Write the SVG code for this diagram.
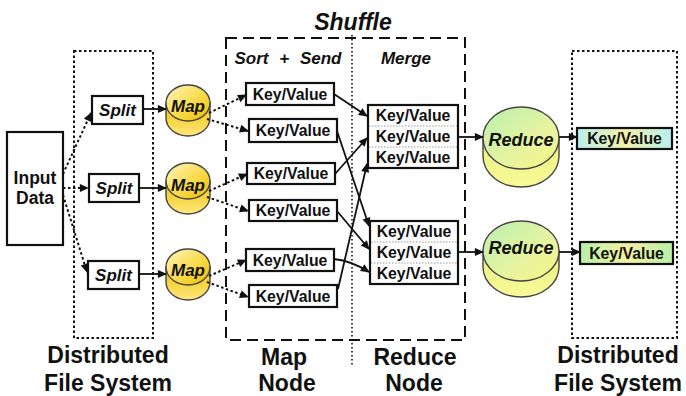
<svg xmlns="http://www.w3.org/2000/svg" width="686" height="396" viewBox="0 0 686 396">
<style>
.box{fill:#fff;stroke:#111;stroke-width:2.2}
.t{font-family:"Liberation Sans",Arial,sans-serif;font-weight:bold;fill:#111;text-anchor:middle}
.bi{font-style:italic}
.kv{font-size:15.8px}
.big{font-size:23px}
.sol{fill:none;stroke:#111;stroke-width:1.8;marker-end:url(#ah)}
.dot{fill:none;stroke:#111;stroke-width:2;stroke-dasharray:2.5,2.5;marker-end:url(#ah)}
.fs{fill:none;stroke:#111;stroke-width:2;stroke-dasharray:2.5,2.5}
.cyl{stroke:#444;stroke-width:1.4}
.div{stroke:#999;stroke-width:1;stroke-dasharray:1.5,1.5}
</style>
<defs>
<marker id="ah" viewBox="0 0 10 10" refX="9" refY="5" markerWidth="10" markerHeight="9" markerUnits="userSpaceOnUse" orient="auto"><path d="M0,0.5 L10,5 L0,9.5 z" fill="#111"/></marker>
<linearGradient id="mapTop" x1="0" y1="0" x2="1" y2="1"><stop offset="0" stop-color="#fff6c0"/><stop offset="0.6" stop-color="#f8d840"/><stop offset="1" stop-color="#e8b800"/></linearGradient>
<linearGradient id="mapSide" x1="0" y1="0" x2="0" y2="1"><stop offset="0" stop-color="#f0c000"/><stop offset="1" stop-color="#ffe880"/></linearGradient>
<linearGradient id="redTop" x1="0" y1="0" x2="1" y2="1"><stop offset="0" stop-color="#b8f0b0"/><stop offset="0.6" stop-color="#e8f4a0"/><stop offset="1" stop-color="#f8f480"/></linearGradient>
<linearGradient id="redSide" x1="0" y1="0" x2="0" y2="1"><stop offset="0" stop-color="#e8f080"/><stop offset="1" stop-color="#fafa98"/></linearGradient>
<linearGradient id="out1" x1="0" y1="0" x2="1" y2="0"><stop offset="0" stop-color="#b8f0f0"/><stop offset="0.5" stop-color="#f4f0a8"/><stop offset="1" stop-color="#b8f0f0"/></linearGradient>
<linearGradient id="out2" x1="0" y1="0" x2="1" y2="0"><stop offset="0" stop-color="#b8f0a8"/><stop offset="0.5" stop-color="#f4f0a0"/><stop offset="1" stop-color="#b8f0a8"/></linearGradient>
</defs>
<rect width="686" height="396" fill="#fff"/>

<g id="frames">
<rect class="fs" x="74" y="51" width="79" height="287"/>
<rect class="fs" x="572" y="51" width="105" height="287"/>
<rect x="226" y="38" width="239" height="302" fill="none" stroke="#111" stroke-width="2" stroke-dasharray="11,6"/>
<line x1="352" y1="35" x2="352" y2="367" stroke="#111" stroke-width="1.6" stroke-dasharray="1.6,2.4"/>
<text class="t bi" x="353" y="30" font-size="23">Shuffle</text>
<text class="t bi" x="288" y="64" font-size="17" word-spacing="6">Sort + Send</text>
<text class="t bi" x="406" y="64" font-size="17">Merge</text>
</g>

<g id="input"><rect class="box" x="7" y="132" width="56" height="113"/>
<text class="t" x="35" y="184" font-size="17.5">Input</text><text class="t" x="35" y="204" font-size="17.5">Data</text></g>

<g id="split1"><rect class="box" x="92" y="96" width="51" height="28"/><text class="t bi" x="117.5" y="116" font-size="17">Split</text></g>
<g id="split2"><rect class="box" x="89" y="174" width="50" height="28"/><text class="t bi" x="114" y="194" font-size="17">Split</text></g>
<g id="split3"><rect class="box" x="88" y="261" width="51" height="28"/><text class="t bi" x="113.5" y="281" font-size="17">Split</text></g>

<g id="map1"><path class="cyl" d="M166,103 V118 A22,18 0 0 0 210,118 V103 Z" fill="url(#mapSide)"/><ellipse class="cyl" cx="188" cy="103" rx="22" ry="18" fill="url(#mapTop)"/><text class="t bi" x="188" y="112" font-size="17">Map</text></g>
<g id="map2"><path class="cyl" d="M166,181 V196 A22,18 0 0 0 210,196 V181 Z" fill="url(#mapSide)"/><ellipse class="cyl" cx="188" cy="181" rx="22" ry="18" fill="url(#mapTop)"/><text class="t bi" x="188" y="191" font-size="17">Map</text></g>
<g id="map3"><path class="cyl" d="M166,267 V282 A22,18 0 0 0 210,282 V267 Z" fill="url(#mapSide)"/><ellipse class="cyl" cx="188" cy="267" rx="22" ry="18" fill="url(#mapTop)"/><text class="t bi" x="188" y="276" font-size="17">Map</text></g>

<g id="kv1"><rect class="box" x="246" y="83" width="88" height="22"/><text class="t kv" x="290" y="100">Key/Value</text></g>
<g id="kv2"><rect class="box" x="249" y="119" width="88" height="23"/><text class="t kv" x="293" y="136">Key/Value</text></g>
<g id="kv3"><rect class="box" x="247" y="163" width="88" height="21"/><text class="t kv" x="291" y="179">Key/Value</text></g>
<g id="kv4"><rect class="box" x="249" y="200" width="88" height="21"/><text class="t kv" x="293" y="216">Key/Value</text></g>
<g id="kv5"><rect class="box" x="246" y="249" width="88" height="22"/><text class="t kv" x="290" y="266">Key/Value</text></g>
<g id="kv6"><rect class="box" x="249" y="285" width="88" height="22"/><text class="t kv" x="293" y="302">Key/Value</text></g>

<g id="merge1"><rect class="box" x="368" y="105" width="90" height="63"/>
<line class="div" x1="369" y1="126" x2="457" y2="126"/><line class="div" x1="369" y1="147" x2="457" y2="147"/>
<text class="t kv" x="413" y="121">Key/Value</text><text class="t kv" x="413" y="142">Key/Value</text><text class="t kv" x="413" y="163">Key/Value</text></g>
<g id="merge2"><rect class="box" x="370" y="221" width="88" height="63"/>
<line class="div" x1="371" y1="242" x2="457" y2="242"/><line class="div" x1="371" y1="263" x2="457" y2="263"/>
<text class="t kv" x="414" y="237">Key/Value</text><text class="t kv" x="414" y="258">Key/Value</text><text class="t kv" x="414" y="279">Key/Value</text></g>

<g id="reduce1"><path class="cyl" d="M483,138 V156 A38,31 0 0 0 559,156 V138 Z" fill="url(#redSide)"/><ellipse class="cyl" cx="521" cy="138" rx="38" ry="31" fill="url(#redTop)"/><text class="t bi" x="521" y="146" font-size="18">Reduce</text></g>
<g id="reduce2"><path class="cyl" d="M483,251 V267 A38,30 0 0 0 559,267 V251 Z" fill="url(#redSide)"/><ellipse class="cyl" cx="521" cy="251" rx="38" ry="30" fill="url(#redTop)"/><text class="t bi" x="521" y="254" font-size="18">Reduce</text></g>

<g id="out1"><rect x="577" y="128" width="95" height="21" fill="url(#out1)" stroke="#111" stroke-width="2.2"/><text class="t kv" x="624.5" y="144">Key/Value</text></g>
<g id="out2"><rect x="580" y="242" width="93" height="22" fill="url(#out2)" stroke="#111" stroke-width="2.2"/><text class="t kv" x="626.5" y="259">Key/Value</text></g>

<g id="labels">
<text class="t big" x="108" y="363">Distributed</text><text class="t big" x="108" y="391">File System</text>
<text class="t big" x="284" y="365">Map</text><text class="t big" x="287" y="391">Node</text>
<text class="t big" x="415" y="365">Reduce</text><text class="t big" x="414" y="391">Node</text>
<text class="t big" x="618" y="363">Distributed</text><text class="t big" x="618" y="391">File System</text>
</g>

<g id="connectors">
<line class="dot" x1="63" y1="174" x2="91" y2="113"/>
<line class="dot" x1="63" y1="188" x2="88" y2="188"/>
<line class="dot" x1="63" y1="195" x2="87" y2="272"/>
<line class="sol" x1="143" y1="109" x2="166" y2="109"/>
<line class="sol" x1="139" y1="188" x2="166" y2="188"/>
<line class="sol" x1="139" y1="274" x2="166" y2="274"/>
<line class="dot" x1="209" y1="113" x2="246" y2="95"/>
<line class="dot" x1="207" y1="119" x2="248" y2="131"/>
<line class="dot" x1="209" y1="191" x2="247" y2="174"/>
<line class="dot" x1="207" y1="197" x2="248" y2="211"/>
<line class="dot" x1="209" y1="276" x2="246" y2="260"/>
<line class="dot" x1="207" y1="282" x2="248" y2="297"/>
<line class="sol" x1="334" y1="94" x2="367" y2="116"/>
<line class="sol" x1="337" y1="131" x2="369" y2="226"/>
<line class="sol" x1="335" y1="174" x2="367" y2="138"/>
<line class="sol" x1="337" y1="211" x2="369" y2="249"/>
<path class="sol" d="M334,259 Q352,261 369,272"/>
<line class="sol" x1="338" y1="289" x2="367" y2="164"/>
<line class="sol" x1="458" y1="137" x2="483" y2="137"/>
<line class="sol" x1="458" y1="252" x2="483" y2="252"/>
<line class="sol" x1="559" y1="137" x2="577" y2="137"/>
<line class="sol" x1="559" y1="252" x2="580" y2="252"/>
</g>
</svg>
